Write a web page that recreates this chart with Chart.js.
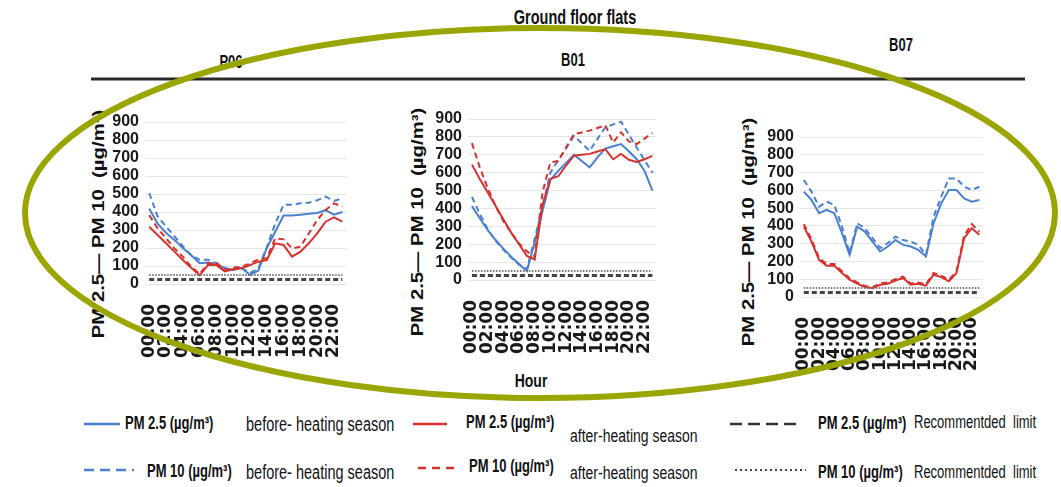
<!DOCTYPE html>
<html>
<head>
<meta charset="utf-8">
<script src="https://cdn.jsdelivr.net/npm/chart.js@4.4.1/dist/chart.umd.min.js"></script>
<style>
  html, body { margin: 0; padding: 0; background: #fff; }
  #page { position: relative; width: 1061px; height: 487px; overflow: hidden; background: #fff; }
  canvas { position: absolute; }
  .t { position: absolute; white-space: nowrap; line-height: 1; color: #111;
       font-family: 'Liberation Sans', Arial, sans-serif; }
  .b { font-weight: bold; }
  .l { transform: translateY(-50%) scaleY(1.35); transform-origin: left center; }
  .c { transform: translate(-50%, -50%) scaleY(1.35); }
  .yt { font-weight: bold; font-size: 16px; transform: translate(-50%, -50%) rotate(-90deg) scaleX(1.27); }
  #overlay { position: absolute; left: 0; top: 0; z-index: 10; pointer-events: none; }
</style>
</head>
<body>
<div id="page">
  <div class="t b c" style="left:575px; top:18px; font-size:14.5px;">Ground floor flats</div>
  <div class="t b c" style="left:231px; top:62px; font-size:13px;">P06</div>
  <div class="t b c" style="left:573px; top:60px; font-size:13px;">B01</div>
  <div class="t b c" style="left:901px; top:45px; font-size:13px;">B07</div>

  <div class="t yt" style="left:99px; top:224px;">PM 2.5— PM 10&nbsp; (µg/m³)</div>
  <div class="t yt" style="left:418px; top:222px;">PM 2.5— PM 10&nbsp; (µg/m³)</div>
  <div class="t yt" style="left:749px; top:232px;">PM 2.5— PM 10&nbsp; (µg/m³)</div>

  <canvas id="c1" width="270" height="262" style="left:105px; top:102px;"></canvas>
  <canvas id="c2" width="257" height="261" style="left:428px; top:99px;"></canvas>
  <canvas id="c3" width="252" height="260" style="left:760px; top:117px;"></canvas>

  <div class="t b c" style="left:531px; top:380px; font-size:14px;">Hour</div>

  <!-- legend row 1 -->
  <div class="t b l" style="left:125px; top:423px; font-size:13px;">PM 2.5 (µg/m³)</div>
  <div class="t l" style="left:246px; top:425px; font-size:14.5px;">before- heating season</div>
  <div class="t b l" style="left:466px; top:422px; font-size:13px;">PM 2.5 (µg/m³)</div>
  <div class="t l" style="left:570px; top:435px; font-size:14px;">after-heating season</div>
  <div class="t b l" style="left:818px; top:423px; font-size:13px;">PM 2.5 (µg/m³)</div>
  <div class="t l" style="left:914px; top:422px; font-size:13px;">Recommentded&nbsp; limit</div>
  <!-- legend row 2 -->
  <div class="t b l" style="left:147px; top:471px; font-size:13px;">PM 10 (µg/m³)</div>
  <div class="t l" style="left:246px; top:473px; font-size:14.5px;">before- heating season</div>
  <div class="t b l" style="left:469px; top:466px; font-size:13px;">PM 10 (µg/m³)</div>
  <div class="t l" style="left:570px; top:472px; font-size:14px;">after-heating season</div>
  <div class="t b l" style="left:818px; top:472px; font-size:13px;">PM 10 (µg/m³)</div>
  <div class="t l" style="left:914px; top:472px; font-size:13px;">Recommentded&nbsp; limit</div>

  <svg id="overlay" width="1061" height="487" viewBox="0 0 1061 487">
    <line x1="91" y1="79" x2="1025" y2="79" stroke="#2a2a2a" stroke-width="3"/>
    <line x1="84" y1="424" x2="120" y2="424" stroke="#4a80d0" stroke-width="2.5"/>
    <line x1="84" y1="470" x2="134" y2="470" stroke="#4a80d0" stroke-width="2.5" stroke-dasharray="10,6"/>
    <line x1="413" y1="424" x2="447" y2="424" stroke="#d8322f" stroke-width="2.5"/>
    <line x1="418" y1="468" x2="458" y2="468" stroke="#d8322f" stroke-width="2.5" stroke-dasharray="8,6"/>
    <line x1="730" y1="424" x2="800" y2="424" stroke="#333" stroke-width="2.5" stroke-dasharray="12,6"/>
    <line x1="735" y1="470" x2="806" y2="470" stroke="#444" stroke-width="2" stroke-dasharray="2,3"/>
    <ellipse cx="540" cy="213" rx="515" ry="185" fill="none" stroke="rgb(155,165,0)" stroke-width="6"/>
  </svg>
</div>

<script>
const hours = ['00:00','01:00','02:00','03:00','04:00','05:00','06:00','07:00','08:00','09:00','10:00','11:00',
               '12:00','13:00','14:00','15:00','16:00','17:00','18:00','19:00','20:00','21:00','22:00','23:00'];
const yTicks = [0, 100, 200, 300, 400, 500, 600, 700, 800, 900];

// P06
const p06_pm25_before = [420, 335, 285, 245, 200, 160, 115, 120, 110, 85, 80, 90, 50, 75, 200, 290, 380, 380, 385, 390, 395, 410, 385, 400];
const p06_pm10_before = [505, 375, 320, 265, 210, 160, 135, 135, 115, 90, 78, 88, 60, 88, 205, 335, 440, 440, 448, 452, 465, 485, 462, 476];
const p06_pm25_after  = [318, 272, 226, 180, 133, 90, 48, 105, 105, 70, 82, 87, 105, 124, 133, 226, 217, 152, 180, 226, 281, 346, 370, 346];
const p06_pm10_after  = [383, 309, 254, 198, 152, 96, 55, 115, 118, 78, 91, 96, 115, 137, 143, 254, 248, 198, 207, 281, 355, 411, 448, 430];
// B01
const b01_pm25_before = [413, 345, 280, 225, 175, 130, 90, 50, 210, 385, 560, 610, 655, 700, 665, 630, 685, 735, 748, 760, 720, 675, 610, 500];
const b01_pm10_before = [465, 370, 285, 220, 170, 125, 85, 60, 230, 410, 600, 670, 737, 805, 765, 722, 788, 854, 870, 885, 813, 741, 670, 600];
const b01_pm25_after  = [645, 565, 490, 415, 340, 265, 200, 135, 115, 420, 565, 580, 640, 695, 700, 705, 718, 732, 675, 705, 672, 660, 675, 694];
const b01_pm10_after  = [765, 630, 515, 415, 330, 265, 205, 160, 130, 490, 657, 665, 740, 816, 825, 835, 850, 865, 769, 826, 775, 760, 790, 822];
// B07
const b07_pm25_before = [593, 546, 471, 490, 471, 359, 237, 396, 368, 312, 256, 284, 321, 293, 284, 265, 228, 415, 527, 602, 602, 555, 536, 546];
const b07_pm10_before = [658, 593, 508, 536, 518, 396, 247, 415, 387, 331, 275, 303, 340, 321, 312, 293, 237, 452, 564, 667, 667, 620, 602, 620];
const b07_pm25_after  = [396, 312, 209, 176, 176, 135, 97, 75, 56, 50, 69, 75, 93, 107, 69, 75, 64, 125, 112, 88, 135, 331, 387, 350];
const b07_pm10_after  = [410, 325, 220, 185, 185, 145, 105, 82, 62, 56, 76, 82, 100, 115, 76, 82, 72, 135, 120, 96, 145, 345, 410, 368];
// Recommended limits
const pm25_limit = [25, 25, 25, 25, 25, 25, 25, 25, 25, 25, 25, 25, 25, 25, 25, 25, 25, 25, 25, 25, 25, 25, 25, 25];
const pm10_limit = [50, 50, 50, 50, 50, 50, 50, 50, 50, 50, 50, 50, 50, 50, 50, 50, 50, 50, 50, 50, 50, 50, 50, 50];

const BLUE = '#4a80d0', RED = '#d8322f';

function sets(b25, b10, a25, a10) {
  return [
    { data: pm25_limit, borderColor: '#444', borderWidth: 3, borderDash: [5, 3] },
    { data: pm10_limit, borderColor: '#777', borderWidth: 2, borderDash: [1.5, 1.5] },
    { data: a10, borderColor: RED, borderDash: [6, 4] },
    { data: a25, borderColor: RED },
    { data: b10, borderColor: BLUE, borderDash: [6, 4] },
    { data: b25, borderColor: BLUE }
  ];
}

function makeChart(id, datasets) {
  return new Chart(document.getElementById(id), {
    type: 'line',
    data: { labels: hours, datasets: datasets },
    options: {
      responsive: false, animation: false, devicePixelRatio: 1,
      layout: { padding: { top: 20, right: 10, left: 0, bottom: 0 } },
      plugins: { legend: { display: false }, tooltip: { enabled: false }, title: { display: false } },
      elements: { point: { radius: 0 }, line: { tension: 0, borderWidth: 2, fill: false } },
      scales: {
        x: {
          offset: true,
          grid: { display: false }, border: { display: false },
          ticks: {
            autoSkip: false, minRotation: 90, maxRotation: 90, padding: 12, color: '#1a1a1a',
            font: { family: 'DejaVu Sans', weight: 'bold', size: 17 },
            callback: function (v, i) { return i % 2 === 0 ? hours[i] : ''; }
          },
          afterFit: function (s) { s.height = 80; }
        },
        y: {
          min: yTicks[0], max: yTicks[yTicks.length - 1],
          afterBuildTicks: function (s) { s.ticks = yTicks.map(v => ({ value: v })); },
          grid: { color: '#e6e6e6', drawTicks: false }, border: { display: false },
          ticks: { autoSkip: false, padding: 6, color: '#1a1a1a', font: { family: 'Liberation Sans', weight: 'bold', size: 16 } },
          afterFit: function (s) { s.width = 40; }
        }
      }
    }
  });
}

makeChart('c1', sets(p06_pm25_before, p06_pm10_before, p06_pm25_after, p06_pm10_after));
makeChart('c2', sets(b01_pm25_before, b01_pm10_before, b01_pm25_after, b01_pm10_after));
makeChart('c3', sets(b07_pm25_before, b07_pm10_before, b07_pm25_after, b07_pm10_after));
</script>
</body>
</html>
